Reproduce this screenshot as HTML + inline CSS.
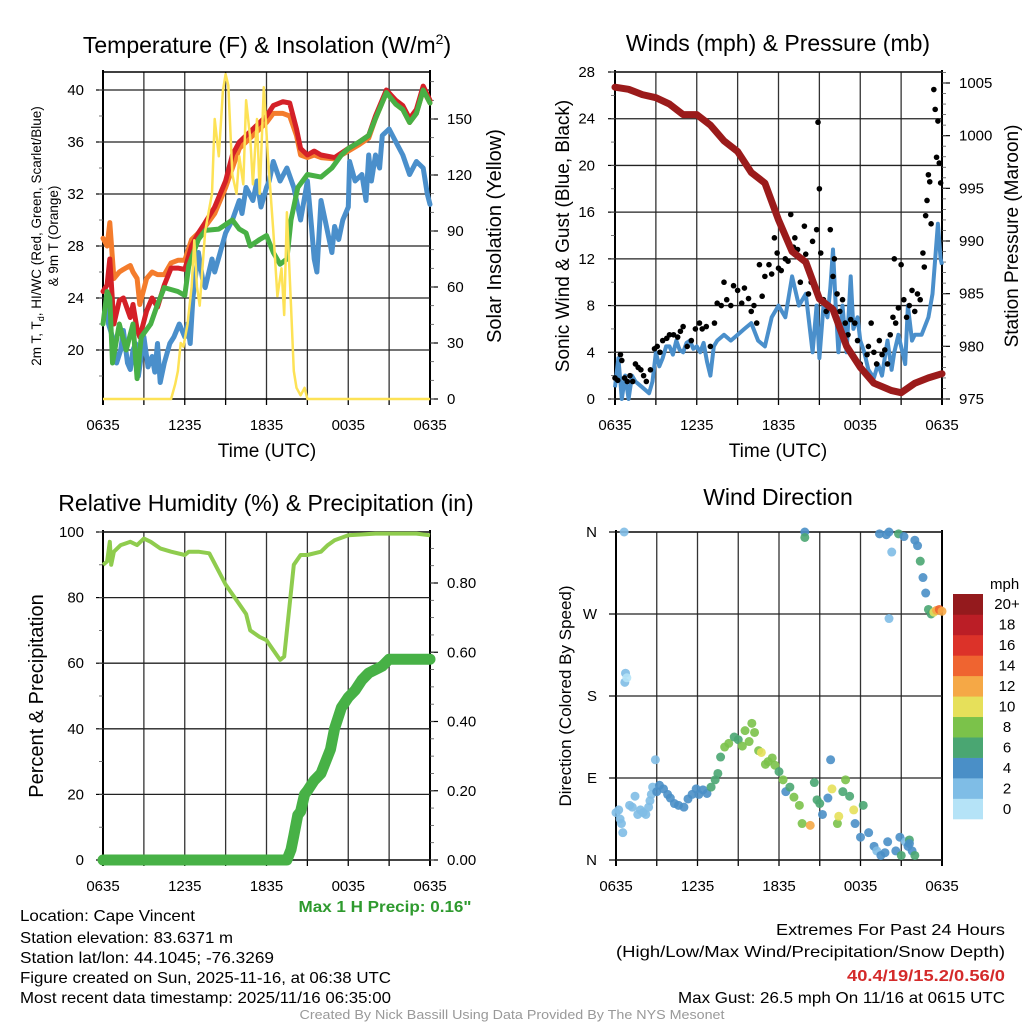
<!DOCTYPE html>
<html><head><meta charset="utf-8"><style>
html,body{margin:0;padding:0;background:#fff;}
svg{display:block;font-family:"Liberation Sans",sans-serif;}
</style></head><body>
<svg id="fig" width="1024" height="1024" viewBox="0 0 1024 1024" xmlns="http://www.w3.org/2000/svg">
<rect x="0" y="0" width="1024" height="1024" fill="#fff"/>
<text x="267" y="53" font-size="23" text-anchor="middle">Temperature (F) &amp; Insolation (W/m<tspan font-size="14" dy="-9">2</tspan><tspan dy="9">)</tspan></text>
<text x="778" y="51" font-size="23" text-anchor="middle">Winds (mph) &amp; Pressure (mb)</text>
<text x="266" y="511" font-size="23" text-anchor="middle">Relative Humidity (%) &amp; Precipitation (in)</text>
<text x="778" y="505" font-size="23" text-anchor="middle">Wind Direction</text>
<text x="267" y="457" font-size="19" text-anchor="middle">Time (UTC)</text>
<text x="778" y="457" font-size="19" text-anchor="middle">Time (UTC)</text>
<text transform="translate(41,236) rotate(-90)" font-size="13.5" text-anchor="middle">2m T, T<tspan font-size="9" dy="3">d</tspan><tspan dy="-3">, HI/WC (Red, Green, Scarlet/Blue)</tspan></text>
<text transform="translate(58,236) rotate(-90)" font-size="13.5" text-anchor="middle">&amp; 9m T (Orange)</text>
<text transform="translate(501,236) rotate(-90)" font-size="20" text-anchor="middle">Solar Insolation (Yellow)</text>
<text transform="translate(569,236) rotate(-90)" font-size="19" text-anchor="middle">Sonic Wind &amp; Gust (Blue, Black)</text>
<text transform="translate(1018,236) rotate(-90)" font-size="19" text-anchor="middle">Station Pressure (Maroon)</text>
<text transform="translate(43,696) rotate(-90)" font-size="20" text-anchor="middle">Percent &amp; Precipitation</text>
<text transform="translate(571,696) rotate(-90)" font-size="17" text-anchor="middle">Direction (Colored By Speed)</text>
<text x="990" y="589" font-size="15">mph</text>
<text x="385" y="912" font-size="16" font-weight="bold" fill="#2e9a2e" text-anchor="middle" textLength="173" lengthAdjust="spacingAndGlyphs">Max 1 H Precip: 0.16"</text>
<g font-size="16">
<text x="20" y="921" textLength="175" lengthAdjust="spacingAndGlyphs">Location: Cape Vincent</text>
<text x="20" y="943" textLength="213" lengthAdjust="spacingAndGlyphs">Station elevation: 83.6371 m</text>
<text x="20" y="963" textLength="254" lengthAdjust="spacingAndGlyphs">Station lat/lon: 44.1045; -76.3269</text>
<text x="20" y="983" textLength="371" lengthAdjust="spacingAndGlyphs">Figure created on Sun, 2025-11-16, at 06:38 UTC</text>
<text x="20" y="1003" textLength="371" lengthAdjust="spacingAndGlyphs">Most recent data timestamp: 2025/11/16 06:35:00</text>
</g>
<g font-size="16" text-anchor="end">
<text x="1005" y="935" textLength="229" lengthAdjust="spacingAndGlyphs">Extremes For Past 24 Hours</text>
<text x="1005" y="957" textLength="389" lengthAdjust="spacingAndGlyphs">(High/Low/Max Wind/Precipitation/Snow Depth)</text>
<text x="1005" y="981" font-weight="bold" fill="#d42a2a" textLength="158" lengthAdjust="spacingAndGlyphs">40.4/19/15.2/0.56/0</text>
<text x="1005" y="1003" textLength="327" lengthAdjust="spacingAndGlyphs">Max Gust: 26.5 mph On 11/16 at 0615 UTC</text>
</g>
<text x="512" y="1019" font-size="12.5" fill="#999" text-anchor="middle" textLength="425" lengthAdjust="spacingAndGlyphs">Created By Nick Bassill Using Data Provided By The NYS Mesonet</text>
</svg>
<script>
// ---------- DATA ----------
const xTickLabels = ["0635","1235","1835","0035","0635"];
const tempT = [0,0.3,0.5,0.8,1.2,1.5,2,2.2,2.5,2.7,3.2,3.6,4,4.5,5,5.5,6,6.5,7,7.5,8.2,9,9.5,10,10.5,11,11.5,12,12.5,13.2,13.7,14.2,14.5,15,15.5,16,17,18,18.8,19.5,20,20.8,21.5,22,22.5,23,23.5,24];
const tempRed = [24.5,25,27,22,23.8,24,22.5,23.5,21.6,21,23,24,23.3,25,26.3,26.3,26.2,28,29,29.8,31,33,35,36,36.5,37,37.5,38,38.8,39.1,39,37,35.5,35,35.3,35,34.8,35.5,36,36.5,38,40,39.2,38.8,37.8,38.5,40.3,39.2];
const tempOrange = [28.6,28,29.8,25.5,26,26.2,26.5,26,25.5,23.5,25.5,26,25.8,25.8,26.7,26.9,26.9,28.5,29,29.5,30.5,32.5,34,35.5,36,36.5,37,37.5,38.2,38.2,38,36.5,35,34.8,35,34.8,34.7,35.3,35.8,36.3,37.8,39.8,38.9,38.5,37.5,38.2,40,39];
const dewT = [0,0.3,0.5,0.7,1.2,1.7,2.2,2.5,2.8,3.5,4,4.5,5.5,6,6.3,7,7.5,8.5,9.5,10,10.5,10.8,11.5,12,12.5,13,13.5,13.8,14.3,15,16,16.8,17.5,18,18.8,19.5,20,20.8,21.5,22,22.5,23,23.5,24];
const dewGreen = [22,24.5,24,19,22,20,22,17.8,21,22,23.5,24.8,24.5,24.2,26.5,28.5,29.2,29.3,30,29.3,29,28,28.5,28.8,27.5,26.6,27,30,32.5,33.5,33.3,34,35,35.5,36,36.5,37.8,39.8,38.9,38.5,37.5,38.2,40,39];
const wcT = [0.3,0.4,0.7,1,1.3,1.5,1.8,2,2.2,2.4,2.6,2.8,3,3.3,3.6,3.8,4,4.2,4.5,4.9,5.2,5.6,6,6.2,6.4,6.6,7,7.3,7.5,8,8.2,8.6,9,9.5,10,10.2,10.5,11,11.3,11.6,12,12.2,12.5,13,13.5,14,14.5,15,15.3,15.5,15.7,16,16.3,16.5,16.8,17,17.3,17.6,18,18.1,18.5,19,19.3,19.5,19.7,20,20.3,20.5,21,21.5,22,22.5,23,23.5,23.8,24];
const wcBlue = [23.5,22,21,19,20,21.5,19,18.5,20,20.5,18,19.5,21,18.7,19.5,18.3,20.5,17.5,19,20.5,21,22,21,22,20.5,24,27.5,25.5,24.8,27,26,27.5,29,30,31.5,30.5,32.5,31.5,33,31,32.5,33,34.5,33,34,32.5,30,33,29.5,27,26,31.5,30,29,27.5,29.5,28.5,30,31,34.5,33,33.5,31.5,35,33,35,34,36.5,37,36,35,33.5,34.5,34,32,31.2];
const solT = [0,5,5.3,5.5,5.7,5.9,6.2,6.5,6.7,6.9,7.1,7.5,8,8.2,8.5,8.8,9,9.2,9.5,9.8,10,10.3,10.5,10.8,11,11.3,11.5,11.8,12.1,12.5,12.8,13.1,13.3,13.5,13.8,14,14.2,14.5,14.8,15,24];
const solValue = [0,0,8,15,30,28,40,60,85,60,50,90,110,150,130,165,174,168,120,110,130,115,160,140,115,150,110,167,130,90,55,70,45,100,50,15,6,2,6,0,0];
const windT = [0,0.25,0.5,0.75,1,1.25,1.5,2,2.5,2.75,3,3.25,3.5,3.75,4,4.25,4.5,4.75,5,5.25,5.5,5.75,6,6.25,6.5,6.75,7,7.25,7.5,8,8.5,9,9.5,10,10.5,11,11.5,12,12.5,13,13.5,14,14.5,14.8,15,15.3,15.6,15.8,16,16.2,16.4,16.7,17,17.3,17.5,17.8,18,18.3,18.6,19,19.3,19.6,20,20.3,20.5,20.8,21,21.3,21.5,21.8,22,22.5,23,23.3,23.5,23.7,23.9,24];
const windSpeed = [1,3.5,0,2,0,2,1.5,1,0.5,1.5,4,2.8,3.5,4.5,4.5,3.8,5,4.2,4,4.8,5,4.3,4.5,4,4.8,3.2,2,4.5,5,5.5,5,5.5,6,6.5,5,4.5,7,8,7,10.5,8,9,4,8,3.5,8,7,9.5,12.8,8,4,8,4,10.5,6,7,5,4,2.5,1.8,3,2,5,2.5,4,5.5,4.5,3,8,5,5.5,5.5,7,9,12,15,12,11.5];
const gustT = [0,0.2,0.4,0.5,0.7,0.9,1.1,1.3,1.5,1.7,1.9,2.1,2.3,2.6,2.9,3.1,3.3,3.5,3.8,4,4.3,4.6,4.8,5,5.3,5.6,5.9,6.2,6.4,6.7,7,7.3,7.5,7.8,8,8.2,8.5,8.7,9,9.3,9.5,9.8,10,10.2,10.4,10.6,10.8,11,11.3,11.5,11.7,11.9,12,12.2,12.5,12.7,12.9,13.1,13.2,13.4,13.6,13.9,14,14.2,14.4,14.5,14.8,14.9,15,15.1,15.3,15.5,15.8,16,16.1,16.3,16.5,16.7,16.9,17.1,17.3,17.6,17.8,18,18.2,18.5,18.6,18.8,19,19.2,19.4,19.6,19.8,20,20.2,20.4,20.5,20.6,20.8,21,21.2,21.4,21.6,21.8,22,22.2,22.4,22.6,22.7,22.8,22.9,23,23.1,23.2,23.4,23.5,23.6,23.7,23.8,23.9];
const gustSpeed = [1.8,1.6,3.8,3.3,1.8,1.5,2,1.5,3,2.7,2.5,2,1.5,2.5,4.3,4.5,4,5,5.2,5.5,5.5,5.3,5.8,6.2,4.5,5,6,6.5,6,6.2,4.5,6.5,8.2,8,10,8.5,8,9.7,9.3,8.2,9.5,8.6,7.5,8,6.5,11.5,8.8,10.5,11.5,10.7,13.8,12.5,11.2,11,12,11.8,15.8,13,13.8,12.8,10,14.8,12.4,9,10,13.5,14.5,23.7,18,12.5,8.5,7.5,14.5,10.5,12,9,7.5,8.5,6.5,5.5,6.8,6.5,5,3,2.5,3.8,4.5,6.5,4,3,5,3.8,4.2,3,5.5,7,12,6.5,7.8,11.5,8.5,7,8,9.3,7.5,9,8.5,12.5,11.3,15.7,17,19.2,18.6,15,26.5,24.8,20.7,23.8,20.2,18.5];
const presT = [0,1,2,3,4,5,6,7,8,9,10,11,12,13,14,15,16,17,18,19,20.3,21,22,23,24];
const presValue = [1004.6,1004.4,1003.9,1003.6,1003,1002,1002,1001,999.5,998.5,996.5,995.5,992,989,988,984.5,983.5,980,978,976.5,975.8,975.6,976.5,977,977.4];
const rhT = [0,0.3,0.5,0.6,0.8,1.3,2,2.5,3,3.5,4.2,5,6,6.3,7,7.8,8.5,9,10,10.5,10.8,11.5,12,12.5,13,13.3,13.7,14,14.5,15,16,16.5,17,18,20,23,24];
const rhValue = [90,91,97,90,94,96,97,96,98,97,95,94,93,94,94,93.5,88,84,78,75,70,68,67,64,61,62,78,90,93,93,94,96,97.5,99,99.5,99.5,99];
const precipT = [0,13.2,13.5,13.8,14,14.3,14.5,14.8,15,15.5,16,16.3,16.7,17,17.5,18,18.5,19,19.5,20,20.5,21,24];
const precipValue = [0,0,0,0.03,0.07,0.13,0.14,0.19,0.2,0.23,0.25,0.28,0.32,0.38,0.44,0.47,0.49,0.52,0.54,0.55,0.56,0.58,0.58];
const dirT = [0,0.2,0.3,0.4,0.5,0.6,0.65,0.7,0.8,1,1.2,1.4,1.6,1.8,2,2.2,2.4,2.5,2.6,2.7,2.9,3,3.2,3.5,3.8,4,4.3,4.6,5,5.3,5.6,5.9,6.1,6.4,6.7,7,7.3,7.5,7.7,8,8.3,8.7,9,9.3,9.5,9.8,10,10.2,10.5,10.7,11,11.2,11.5,11.7,12,12.3,12.5,12.8,13.1,13.5,13.7,13.9,13.9,14.3,14.6,14.8,15,15.2,15.6,15.8,15.9,16.3,16.4,16.7,16.9,17.2,17.5,17.6,18,18.2,18.6,19,19.2,19.5,19.8,20,20.1,20.1,20.3,20.6,20.9,21,21.3,21.5,21.6,21.8,22,22,22.2,22.4,22.6,22.8,23,23.2,23.4,23.6,23.8,24,19.4,19.9,20.8,21.2,21.6];
const dirDeg = [52,55,45,40,30,360,195,205,200,60,58,70,50,55,52,50,58,65,72,80,110,75,82,78,72,68,62,60,58,67,72,78,72,77,73,80,88,95,113,124,128,135,132,125,142,130,150,140,120,118,105,108,112,104,97,88,75,80,69,60,40,360,354,38,85,66,62,50,68,110,78,40,48,75,88,70,55,40,25,60,30,15,10,5,8,20,360,265,338,10,25,5,20,15,22,10,5,351,345,328,310,293,275,270,272,274,275,273,358,357,358,355,18];
const dirSpeed = [1,1,1,1,2,1,1,1,0,2,2,1,2,2,2,2,2,1,1,1,1,4,4,4,4,4,4,4,4,4,4,4,4,4,4,5,5,6,6,7,7,6,6,7,8,8,7,8,8,9,8,8,7,7,6,7,4,6,7,7,8,4,6,11,6,6,5,4,3,4,10,8,10,5,7,6,9,4,4,5,4,3,2,4,3,4,4,1,2,4,3,6,2,4,5,3,6,4,4,6,4,4,6,6,10,12,14,12,4,3,6,4,3];
const speedBins = ["0","2","4","6","8","10","12","14","16","18","20+"];
const speedColors = ["#b5e3f7","#7fbde6","#4a8fc7","#4aa672","#7bc24a","#e6e05a","#f5a846","#ef6430","#dc3229","#bb1e26","#941a1d"];
const tempYTicks = [20,24,28,32,36,40];
const solYTicks = [0,30,60,90,120,150];
const windYTicks = [0,4,8,12,16,20,24,28];
const presYTicks = [975,980,985,990,995,1000,1005];
const rhYTicks = [0,20,40,60,80,100];
const precipYTicks = [0,0.2,0.4,0.6,0.8];
const dirYTicks = [0,90,180,270,360];
const dirYLabels = ["N","E","S","W","N"];

// ---------- HELPERS ----------
const NS = "http://www.w3.org/2000/svg";
const svg = document.getElementById("fig");
function mk(tag, attrs, name, parent) {
  const el = document.createElementNS(NS, tag);
  for (const k in attrs) el.setAttribute(k, attrs[k]);
  
  
  (parent || svg).appendChild(el);
  return el;
}
function lin(d0, d1, r0, r1) { return v => r0 + (v - d0) * (r1 - r0) / (d1 - d0); }
function pathD(xs, ys, fx, fy) { return xs.map((t, i) => (i ? "L" : "M") + fx(t).toFixed(1) + "," + fy(ys[i]).toFixed(1)).join(""); }

function frame(p, pfx) {
  const g = mk("g", {}, pfx + "-axes");
  const fx = lin(0, 24, p.x0, p.x1);
  for (let h = 0; h <= 24; h += 3) {
    const x = fx(h);
    mk("line", {x1: x, x2: x, y1: p.y0, y2: p.y1, stroke: "#333", "stroke-width": 1.3}, pfx + "-vgrid", g);
    mk("line", {x1: x, x2: x, y1: p.y1, y2: p.y1 + 6, stroke: "#000", "stroke-width": 1.3}, pfx + "-x-tick", g);
  }
  xTickLabels.forEach((l, i) => {
    const t = mk("text", {x: fx(i * 6), y: p.y1 + 31, "font-size": 15, "text-anchor": "middle"}, pfx + "-x-tick-label", g);
    t.textContent = l;
  });
  mk("line", {x1: p.x0, x2: p.x1, y1: p.y0, y2: p.y0, stroke: "#000", "stroke-width": 1.5}, pfx + "-top-border", g);
  mk("line", {x1: p.x0, x2: p.x1, y1: p.y1, y2: p.y1, stroke: "#000", "stroke-width": 1.5}, pfx + "-bottom-border", g);
  mk("line", {x1: p.x0, x2: p.x0, y1: p.y0 - 2, y2: p.y1 + 6, stroke: "#000", "stroke-width": 2}, pfx + "-left-border", g);
  mk("line", {x1: p.x1, x2: p.x1, y1: p.y0 - 2, y2: p.y1 + 6, stroke: "#000", "stroke-width": 2}, pfx + "-right-border", g);
  return {g, fx};
}
function leftAxis(g, fy, ticks, labels, minorStep, lo, hi, x0, x1, pfx, lx) {
  ticks.forEach((v, i) => {
    const y = fy(v);
    mk("line", {x1: x0, x2: x1, y1: y, y2: y, stroke: "#222", "stroke-width": 1.3}, pfx + "-hgrid", g);
    mk("line", {x1: x0 - 7, x2: x0, y1: y, y2: y, stroke: "#000", "stroke-width": 1.2}, pfx + "-y-tick", g);
    const t = mk("text", {x: lx, y: y + 5, "font-size": 15, "text-anchor": "end"}, pfx + "-y-tick-label", g);
    t.textContent = labels ? labels[i] : v;
  });
  if (minorStep) for (let v = lo; v <= hi + 1e-9; v += minorStep) {
    const y = fy(v);
    mk("line", {x1: x0 - 4, x2: x0, y1: y, y2: y, stroke: "#555", "stroke-width": 0.8}, pfx + "-y-minor-tick", g);
  }
}
function rightAxis(g, fy, ticks, fmt, minorStep, lo, hi, x1, pfx) {
  ticks.forEach(v => {
    const y = fy(v);
    mk("line", {x1: x1, x2: x1 + 8, y1: y, y2: y, stroke: "#000", "stroke-width": 1.2}, pfx + "-y2-tick", g);
    const t = mk("text", {x: x1 + 17, y: y + 5, "font-size": 15}, pfx + "-y2-tick-label", g);
    t.textContent = fmt(v);
  });
  for (let v = lo; v <= hi + 1e-9; v += minorStep) {
    const y = fy(v);
    mk("line", {x1: x1, x2: x1 + 4, y1: y, y2: y, stroke: "#555", "stroke-width": 0.8}, pfx + "-y2-minor-tick", g);
  }
}

// ---------- PANEL 1 ----------
(function () {
  const p = {x0: 103, x1: 430, y0: 72, y1: 399};
  const {g, fx} = frame(p, "temp");
  const fy = lin(20, 40, 350, 90);
  const fs = lin(0, 150, 399, 119);
  leftAxis(g, fy, tempYTicks, null, 2, 18, 40, p.x0, p.x1, "temp", 84);
  rightAxis(g, fs, solYTicks, v => v, 10, 0, 170, p.x1, "solar");
  const lines = [
    [tempT, tempOrange, "#f47c2c", 5, "temp-9m-line"],
    [tempT, tempRed, "#d42027", 5, "temp-2m-line"],
    [wcT, wcBlue, "#4a8fcb", 5, "windchill-line"],
    [dewT, dewGreen, "#48b045", 5, "dewpoint-line"]
  ];
  lines.forEach(l => mk("path", {d: pathD(l[0], l[1], fx, fy), fill: "none", stroke: l[2], "stroke-width": l[3], "stroke-linejoin": "round", "stroke-linecap": "round"}, l[4]));
  mk("path", {d: pathD(solT, solValue, fx, fs), fill: "none", stroke: "#fde256", "stroke-width": 2.5, "stroke-linejoin": "round"}, "insolation-line");
})();

// ---------- PANEL 2 ----------
(function () {
  const p = {x0: 615, x1: 942, y0: 72, y1: 399};
  const {g, fx} = frame(p, "wind");
  const fy = lin(0, 28, 399, 72);
  const fp = lin(975, 1005, 399, 83);
  leftAxis(g, fy, windYTicks, null, 2, 0, 28, p.x0, p.x1, "wind", 595);
  rightAxis(g, fp, presYTicks, v => v, 1, 975, 1006, p.x1, "pressure");
  mk("path", {d: pathD(windT, windSpeed, fx, fy), fill: "none", stroke: "#4a8fcb", "stroke-width": 4, "stroke-linejoin": "round"}, "wind-speed-line");
  gustT.forEach((t, i) => mk("circle", {cx: fx(t), cy: fy(gustSpeed[i]), r: 2.8, fill: "#000"}, "gust-point"));
  mk("path", {d: pathD(presT, presValue, fx, fp), fill: "none", stroke: "#9b1b1b", "stroke-width": 7, "stroke-linejoin": "round", "stroke-linecap": "round"}, "pressure-line");
})();

// ---------- PANEL 3 ----------
(function () {
  const p = {x0: 103, x1: 430, y0: 532, y1: 860};
  const {g, fx} = frame(p, "rh");
  const fy = lin(0, 100, 860, 532);
  const fpr = lin(0, 0.8, 860, 583);
  leftAxis(g, fy, rhYTicks, null, 10, 0, 100, p.x0, p.x1, "rh", 84);
  rightAxis(g, fpr, precipYTicks, v => v.toFixed(2), 0.05, 0, 0.9, p.x1, "precip");
  mk("path", {d: pathD(rhT, rhValue, fx, fy), fill: "none", stroke: "#8fcc4e", "stroke-width": 4, "stroke-linejoin": "round"}, "humidity-line");
  mk("path", {d: pathD(precipT, precipValue, fx, fpr), fill: "none", stroke: "#47b146", "stroke-width": 11, "stroke-linejoin": "round", "stroke-linecap": "round"}, "precip-line");
})();

// ---------- PANEL 4 ----------
(function () {
  const p = {x0: 616, x1: 942, y0: 532, y1: 860};
  const {g, fx} = frame(p, "dir");
  const fy = lin(0, 360, 860, 532);
  leftAxis(g, fy, dirYTicks, dirYLabels, 0, 0, 0, p.x0, p.x1, "dir", 597);
  dirT.forEach((t, i) => {
    const b = Math.min(10, Math.round(dirSpeed[i] / 2));
    mk("circle", {cx: fx(t), cy: fy(dirDeg[i]), r: 4.5, fill: speedColors[b], "fill-opacity": 0.9}, "direction-point");
  });
  const cb = mk("g", {}, "speed-colorbar");
  const h = (819 - 594) / speedBins.length;
  speedBins.forEach((lab, i) => {
    const y = 819 - (i + 1) * h;
    mk("rect", {x: 953, y: y, width: 30, height: h + 0.3, fill: speedColors[i]}, "colorbar-bin", cb);
    const t = mk("text", {x: 1007, y: y + h / 2 + 5, "font-size": 15, "text-anchor": "middle"}, "colorbar-label", cb);
    t.textContent = lab;
  });
})();
</script>
</body></html>
